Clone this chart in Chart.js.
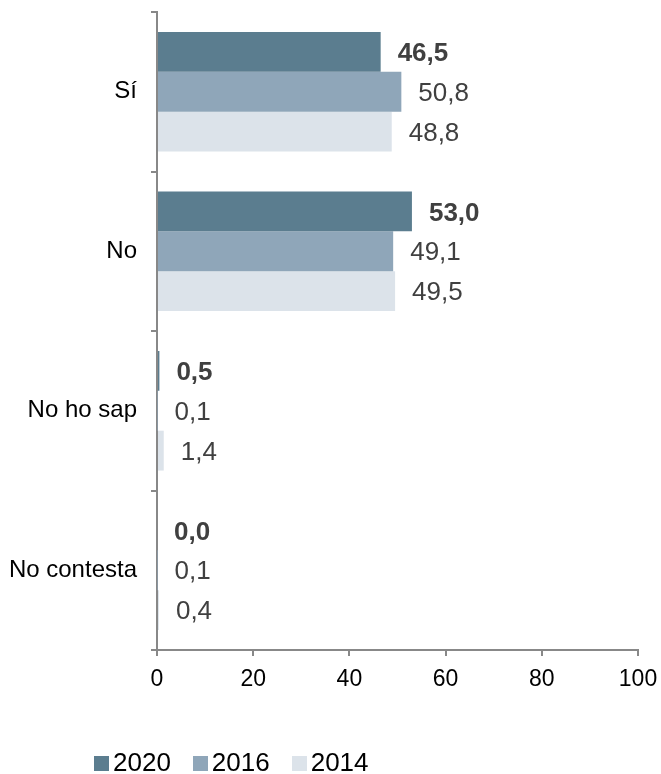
<!DOCTYPE html>
<html>
<head>
<meta charset="utf-8">
<script src="https://cdn.jsdelivr.net/npm/chart.js@4.4.1/dist/chart.umd.min.js"></script>
<style>
  body { margin: 0; background: #fff; }
  #wrap { position: relative; width: 661px; height: 774px; }
  #legend { position: absolute; left: 94px; top: 747px; font-family: "Liberation Sans", Arial, sans-serif; font-size: 26px; color: #000; display: flex; white-space: nowrap; }
  .item { display: flex; align-items: center; margin-right: 22px; }
  .box { width: 15px; height: 15px; margin-right: 4px; margin-top: 2px; }
</style>
</head>
<body>
<div id="wrap">
  <canvas id="chart" width="661" height="774"></canvas>
  <div id="legend"></div>
</div>
<script>
// answers and yearly percentages
const categories = ["Sí", "No", "No ho sap", "No contesta"];
const years = ["2020", "2016", "2014"];
const values2020 = [46.5, 53.0, 0.5, 0.0];
const values2016 = [50.8, 49.1, 0.1, 0.1];
const values2014 = [48.8, 49.5, 1.4, 0.4];
const xTicks = [0, 20, 40, 60, 80, 100];

// colors per year
const yearColors = ["#5b7d8f", "#8fa6b9", "#dce3ea"];

const fontFamily = "'Liberation Sans', Arial, sans-serif";

// draws value labels next to bar ends
const valueLabels = {
  id: "valueLabels",
  afterDatasetsDraw(chart) {
    const ctx = chart.ctx;
    ctx.save();
    ctx.textAlign = "left";
    ctx.textBaseline = "middle";
    ctx.fillStyle = "#404040";
    chart.data.datasets.forEach((ds, i) => {
      const meta = chart.getDatasetMeta(i);
      ctx.font = (i === 0 ? "bold " : "") + "26px " + fontFamily;
      meta.data.forEach((bar, j) => {
        const txt = ds.data[j].toFixed(1).replace(".", ",");
        ctx.fillText(txt, bar.x + 17, bar.y + 2);
      });
    });
    ctx.restore();
  }
};

const allValues = [values2020, values2016, values2014];

new Chart(document.getElementById("chart"), {
  type: "bar",
  data: {
    labels: categories,
    datasets: years.map((y, i) => ({
      label: y,
      data: allValues[i],
      backgroundColor: yearColors[i],
      borderWidth: 0,
      categoryPercentage: 0.75,
      barPercentage: 1
    }))
  },
  options: {
    indexAxis: "y",
    responsive: false,
    animation: false,
    layout: {
      padding: { top: 12, right: 23, left: 0, bottom: 80 }
    },
    plugins: {
      legend: { display: false },
      tooltip: { enabled: false }
    },
    scales: {
      x: {
        min: 0,
        max: 100,
        afterBuildTicks: scale => {
          scale.ticks = xTicks.map(v => ({ value: v }));
        },
        afterFit: scale => {
          scale.height = 44;
          scale.paddingLeft = 0;
          scale.paddingRight = 0;
        },
        border: { color: "#888", width: 2 },
        grid: {
          drawOnChartArea: false,
          color: "#888",
          lineWidth: 2,
          tickLength: 6
        },
        ticks: {
          color: "#000",
          padding: 10,
          font: { family: fontFamily, size: 23 }
        }
      },
      y: {
        afterFit: scale => {
          scale.width = 157;
          scale.paddingTop = 0;
          scale.paddingBottom = 0;
        },
        border: { color: "#888", width: 2 },
        grid: {
          drawOnChartArea: false,
          color: "#888",
          lineWidth: 2,
          tickLength: 6
        },
        ticks: {
          color: "#000",
          padding: 14,
          font: { family: fontFamily, size: 24 }
        }
      }
    }
  },
  plugins: [valueLabels]
});

// legend below chart
const legend = document.getElementById("legend");
years.forEach((y, i) => {
  legend.innerHTML += `<div class="item"><div class="box" style="background:${yearColors[i]}"></div>${y}</div>`;
});
</script>
</body>
</html>
